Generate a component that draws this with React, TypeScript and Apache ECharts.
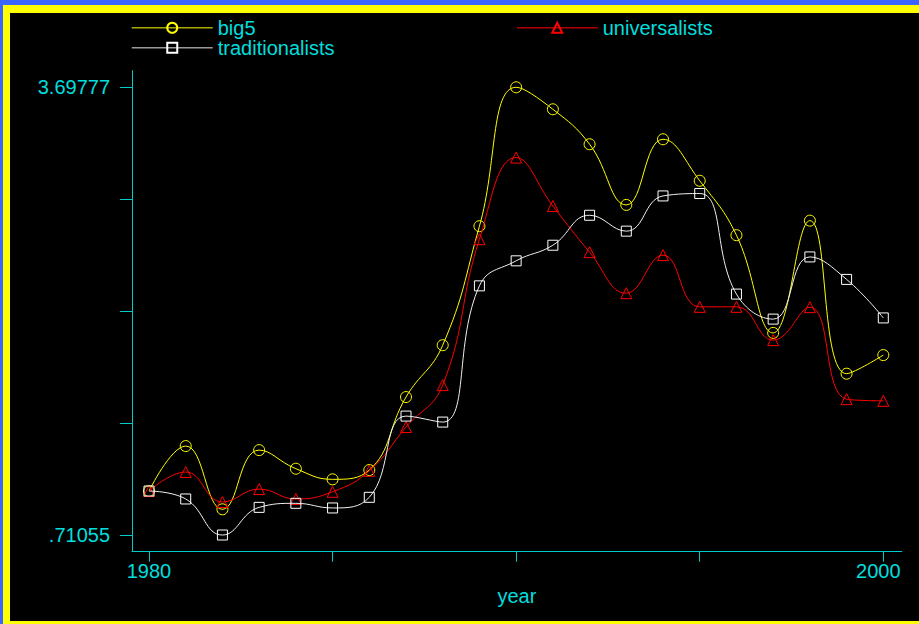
import React, { useEffect, useRef } from 'react';
import * as echarts from 'echarts';

const years = [1980, 1981, 1982, 1983, 1984, 1985, 1986, 1987, 1988, 1989, 1990, 1991, 1992, 1993, 1994, 1995, 1996, 1997, 1998, 1999, 2000];
const big5 = [1.004, 1.304, 0.882, 1.277, 1.153, 1.082, 1.144, 1.631, 1.977, 2.771, 3.69777, 3.551, 3.318, 2.913, 3.351, 3.074, 2.711, 2.059, 2.808, 1.787, 1.911];
const universalists = [1.004, 1.131, 0.931, 1.017, 0.951, 0.999, 1.139, 1.431, 1.711, 2.684, 3.229, 2.906, 2.598, 2.324, 2.578, 2.233, 2.233, 2.011, 2.231, 1.617, 1.606];
const traditionalists = [1.004, 0.951, 0.71055, 0.895, 0.922, 0.891, 0.962, 1.504, 1.464, 2.373, 2.540, 2.644, 2.844, 2.738, 2.973, 2.989, 2.318, 2.151, 2.566, 2.416, 2.159];

const yTicks = [0.71055, 1.457355, 2.20416, 2.950965, 3.69777];
const yLabels = [0.71055, 3.69777];
const xTicks = [1980, 1985, 1990, 1995, 2000];
const xLabels = [1980, 2000];

const CYAN = '#00dede';
const AXIS = '#00cccc';
const FONT = '"Liberation Sans", Arial, Helvetica, sans-serif';

export default function App() {
  const ref = useRef<HTMLDivElement>(null);
  useEffect(() => {
    if (!ref.current) return;
    const chart = echarts.init(ref.current, undefined, { renderer: 'svg' });
    const pts = (arr: number[]) => years.map((y, i) => [y, arr[i]]);
    const legendText = { color: CYAN, fontSize: 20, fontFamily: FONT, lineHeight: 20 };
    chart.setOption({
      animation: false,
      backgroundColor: 'transparent',
      grid: { left: 132, top: 70.7, right: 17.3, bottom: 72.3, containLabel: false },
      legend: [
        {
          left: 131, top: 17.7, orient: 'vertical', itemWidth: 81, itemHeight: 12.5, itemGap: 0, padding: 0,
          selectedMode: false, textStyle: legendText,
          data: [
            { name: 'big5', lineStyle: { color: '#a8a800', width: 1.5 } },
            { name: 'traditionalists', lineStyle: { color: '#999999', width: 1.5 } },
          ],
        },
        {
          left: 516, top: 17.7, orient: 'vertical', itemWidth: 81, itemHeight: 12.5, itemGap: 0, padding: 0,
          selectedMode: false, textStyle: legendText,
          data: [{ name: 'universalists', lineStyle: { color: '#b00000', width: 1.5 } }],
        },
      ],
      xAxis: {
        type: 'value', min: 1979.537, max: 2000.501,
        name: 'year', nameLocation: 'middle', nameGap: 26,
        nameTextStyle: { color: CYAN, fontSize: 20, fontFamily: FONT },
        axisLine: { show: true, onZero: false, lineStyle: { color: AXIS, width: 1 } },
        axisTick: { show: true, inside: false, length: 10, customValues: xTicks, lineStyle: { color: AXIS } },
        axisLabel: {
          show: true, margin: 9, customValues: xLabels, color: CYAN, fontSize: 20, fontFamily: FONT,
          formatter: (v: number) => (Math.round(v) === 2000 ? '{e|2000}' : '{s|' + Math.round(v) + '}'),
          rich: {
            s: { color: CYAN, fontSize: 20, fontFamily: FONT },
            e: { color: CYAN, fontSize: 20, fontFamily: FONT, padding: [0, 10, 0, 0] },
          },
        },
        splitLine: { show: false },
      },
      yAxis: {
        type: 'value', min: 0.5992, max: 3.8085,
        axisLine: { show: true, lineStyle: { color: AXIS, width: 1 } },
        axisTick: { show: true, inside: false, length: 12, customValues: yTicks, lineStyle: { color: AXIS } },
        axisLabel: {
          show: true, margin: 22, customValues: yLabels, color: CYAN, fontSize: 20, fontFamily: FONT,
          formatter: (v: number) => v.toFixed(5).replace(/^0\./, '.'),
        },
        splitLine: { show: false },
      },
      series: [
        {
          name: 'big5', type: 'line', data: pts(big5), smooth: 0.45,
          symbol: 'circle', symbolSize: 11,
          lineStyle: { color: '#ffff00', width: 1 },
          itemStyle: { color: 'rgba(0,0,0,0)', borderColor: '#ffff00', borderWidth: 1 },
          z: 2,
        },
        {
          name: 'universalists', type: 'line', data: pts(universalists), smooth: 0.45,
          symbol: 'triangle', symbolSize: 11,
          lineStyle: { color: '#ff0000', width: 1 },
          itemStyle: { color: 'rgba(0,0,0,0)', borderColor: '#ff0000', borderWidth: 1 },
          z: 3,
        },
        {
          name: 'traditionalists', type: 'line', data: pts(traditionalists), smooth: 0.45,
          symbol: 'rect', symbolSize: 10,
          lineStyle: { color: '#f0f0f0', width: 1 },
          itemStyle: { color: 'rgba(0,0,0,0)', borderColor: '#ffffff', borderWidth: 1 },
          z: 4,
        },
      ],
    });
    return () => chart.dispose();
  }, []);

  return (
    <div style={{ position: 'fixed', left: 0, top: 0, width: 919, height: 624, background: '#3a66ff', overflow: 'hidden' }}>
      <div style={{ position: 'absolute', left: 3, top: 5, width: 916, height: 619, background: '#ffff00' }} />
      <div style={{ position: 'absolute', left: 10, top: 13, width: 909, height: 608, background: '#000000' }} />
      <div ref={ref} style={{ position: 'absolute', left: 0, top: 0, width: 919, height: 624 }} />
    </div>
  );
}
